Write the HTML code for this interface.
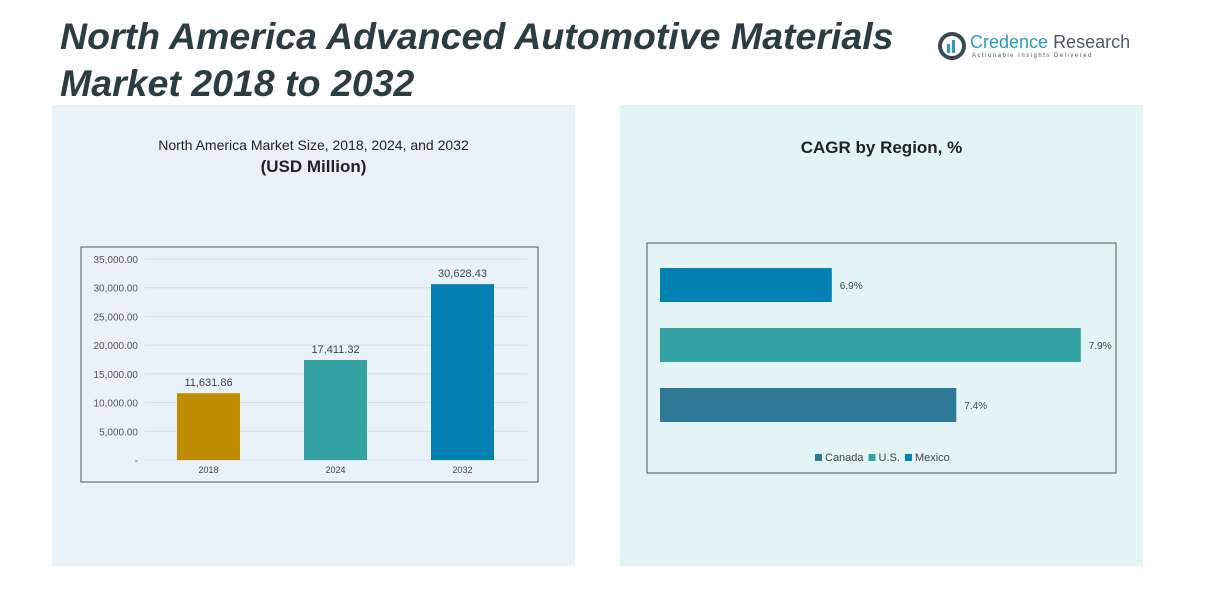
<!DOCTYPE html>
<html><head><meta charset="utf-8"><style>
body{margin:0;width:1212px;height:607px;background:#fff;position:relative;overflow:hidden;font-family:"Liberation Sans",sans-serif}
.abs{position:absolute}
</style></head><body>
<div class="abs" style="left:52px;top:105px;width:523px;height:461px;background:#e9f2f8"></div>
<div class="abs" style="left:620px;top:105px;width:523px;height:461px;background:#e2f4f4"></div>
<div class="abs" style="left:60px;top:13px;font-size:37.5px;font-weight:bold;font-style:italic;color:#2b3d42;line-height:47px;white-space:nowrap">North America Advanced Automotive Materials<br>Market 2018 to 2032</div>
<div class="abs" style="left:938px;top:30px;width:180px;height:36px">
<svg width="30" height="30" style="position:absolute;left:0;top:2px"><circle cx="14" cy="14" r="12" fill="none" stroke="#3a4a55" stroke-width="4"/><rect x="9" y="12" width="3" height="9" fill="#2a9bc1"/><rect x="14" y="8" width="3" height="13" fill="#2a9bc1"/></svg>
<div class="abs" style="left:32px;top:2px;font-size:18px;color:#2a9bc1;white-space:nowrap">Credence <span style="color:#4a5a65">Research</span></div>
<div class="abs" style="left:34px;top:23px;font-size:6px;letter-spacing:1.5px;color:#555;white-space:nowrap">Actionable Insights Delivered</div>
</div>
<div class="abs" style="left:52px;width:523px;top:137px;text-align:center;font-size:14px;color:#222">North America Market Size, 2018, 2024, and 2032</div>
<div class="abs" style="left:52px;width:523px;top:157px;text-align:center;font-size:17px;font-weight:bold;color:#222">(USD Million)</div>
<div class="abs" style="left:620px;width:523px;top:138px;text-align:center;font-size:17px;font-weight:bold;color:#222">CAGR by Region, %</div>
<svg id="c1" class="abs" style="left:0;top:0" width="1212" height="607"></svg>
<script>
const years=["2018","2024","2032"];
const sizes=[11631.86,17411.32,30628.43];
const sizeLabels=["11,631.86","17,411.32","30,628.43"];
const yTicks=[0,5000,10000,15000,20000,25000,30000,35000];
const yTickLabels=["-","5,000.00","10,000.00","15,000.00","20,000.00","25,000.00","30,000.00","35,000.00"];
const sizeColors=["#c08d00","#35a3a3","#0480b1"];
const regions=["Mexico","U.S.","Canada"];
const cagr=[6.9,7.9,7.4];
const cagrLabels=["6.9%","7.9%","7.4%"];
const regionColors=["#0480b1","#35a3a3","#2e7898"];
const legendOrder=["Canada","U.S.","Mexico"];
const legendColors=["#2e7898","#35a3a3","#0480b1"];
const NS="http://www.w3.org/2000/svg";
const svg=document.getElementById('c1');
function mk(t,a,txt){const e=document.createElementNS(NS,t);for(const k in a)e.setAttribute(k,a[k]);if(txt!=null)e.textContent=txt;svg.appendChild(e);return e;}
let f=mk('rect',{x:81,y:247,width:457,height:235,fill:'none',stroke:'#555','stroke-width':1});

const y0=460,y1=259,ymax=35000;const Y=v=>y0-(v/ymax)*(y0-y1);
const pl=145,pw=381,bw=(pw/years.length);const X=i=>pl+bw*i+bw/2;
yTicks.forEach((t,i)=>{let g=mk('line',{x1:145,x2:527,y1:Y(t),y2:Y(t),stroke:'#d5dde2','stroke-width':1});

let l=mk('text',{x:138,y:Y(t)+4,'text-anchor':'end','font-size':10,fill:'#555'},yTickLabels[i]);
});
years.forEach((yr,i)=>{const w=63;let b=mk('rect',{x:X(i)-w/2,y:Y(sizes[i]),width:w,height:y0-Y(sizes[i]),fill:sizeColors[i]});

let v=mk('text',{x:X(i),y:Y(sizes[i])-7,'text-anchor':'middle','font-size':11,fill:'#444'},sizeLabels[i]);

let c=mk('text',{x:X(i),y:473,'text-anchor':'middle','font-size':9,fill:'#444'},yr);
});
let f2=mk('rect',{x:647,y:243,width:469,height:230,fill:'none',stroke:'#555','stroke-width':1});

const xmin=6.21,x0=660,k=249;const XC=v=>x0+(v-xmin)*k;
regions.forEach((r,i)=>{const by=268+i*60;let b=mk('rect',{x:x0,y:by,width:XC(cagr[i])-x0,height:34,fill:regionColors[i]});

let t=mk('text',{x:XC(cagr[i])+8,y:by+21,'font-size':10,fill:'#444'},cagrLabels[i]);
});
let lx=815;legendOrder.forEach((r,i)=>{let s=mk('rect',{x:lx,y:454,width:7,height:7,fill:legendColors[i]});

let t=mk('text',{x:lx+10,y:461,'font-size':11,fill:'#444'},r);

lx+=10+t.getComputedTextLength()+5;});
</script>
</body></html>
